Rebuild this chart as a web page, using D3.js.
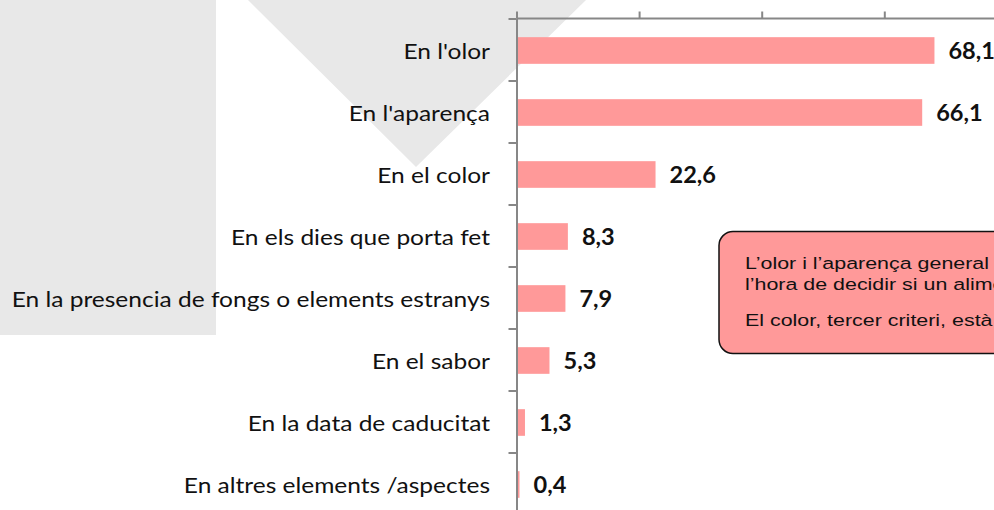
<!DOCTYPE html>
<html>
<head>
<meta charset="utf-8">
<script src="https://cdn.jsdelivr.net/npm/d3@7"></script>
<style>
  html, body { margin: 0; padding: 0; background: #fff; overflow: hidden; }
  svg { display: block; }
</style>
</head>
<body>
<svg id="chart" width="994" height="510"></svg>
<script>
// ---- data ----
const categories = [
  "En l'olor",
  "En l'aparença",
  "En el color",
  "En els dies que porta fet",
  "En la presencia de fongs o elements estranys",
  "En el sabor",
  "En la data de caducitat",
  "En altres elements /aspectes"
];
const values = [68.1, 66.1, 22.6, 8.3, 7.9, 5.3, 1.3, 0.4];
const valueLabels = ["68,1", "66,1", "22,6", "8,3", "7,9", "5,3", "1,3", "0,4"];
const xTicks = [0, 20, 40, 60, 80];
const noteLines = [
  "L’olor i l’aparença general",
  "l’hora de decidir si un aliment",
  "El color, tercer criteri, està"
];

// ---- layout ----
const W = 994, H = 510;
const svg = d3.select("#chart");
const plotLeft = 516.5, plotTop = 18.5;
const step = 62;

// decorative background shapes
svg.append("rect").attr("x", 0).attr("y", 0).attr("width", 216).attr("height", 335).attr("fill", "#e8e8e8");
svg.append("path").attr("d", "M248,0 L416,167 L586,0 Z").attr("fill", "#e8e8e8");

const x = d3.scaleLinear().domain([0, 20]).range([plotLeft, plotLeft + 122.6]);
const y = d3.scaleBand().domain(categories)
  .range([plotTop, plotTop + step * categories.length])
  .paddingInner(0.57).paddingOuter(0.285);

const axisColor = "#878787";

// bars
svg.append("g").selectAll("rect").data(values).join("rect")
  .attr("x", x(0) + 0.5)
  .attr("y", (d, i) => y(categories[i]) + 1)
  .attr("width", d => Math.max(x(d) - x(0), 2.5))
  .attr("height", y.bandwidth())
  .attr("fill", "#ff9999");

// top x axis
const xAxis = d3.axisTop(x).tickValues(xTicks).tickFormat("").tickSize(7).tickSizeOuter(0);
const gx = svg.append("g").attr("transform", `translate(0,${plotTop})`).call(xAxis);
gx.select(".domain").attr("d", `M${plotLeft},0H${W + 10}`);
gx.selectAll("line, path").attr("stroke", axisColor).attr("stroke-width", 2);

// left y axis with boundary ticks
const yEdges = d3.scaleLinear().domain([0, categories.length]).range([plotTop, plotTop + step * categories.length]);
const yAxis = d3.axisLeft(yEdges).tickValues(d3.range(0, categories.length + 1)).tickFormat("").tickSize(8).tickSizeOuter(0);
const gy = svg.append("g").attr("transform", `translate(${plotLeft},0)`).call(yAxis);
gy.selectAll("line, path").attr("stroke", axisColor).attr("stroke-width", 2);

// category labels (reference text is horizontally stretched)
const catSX = 1.14;
svg.append("g").selectAll("text").data(categories).join("text")
  .attr("transform", d => `translate(490,${y(d) + y.bandwidth() / 2 + 9}) scale(${catSX},1)`)
  .attr("text-anchor", "end")
  .attr("font-family", "Lato, 'Open Sans', sans-serif")
  .attr("font-size", 21.5)
  .attr("fill", "#111")
  .text(d => d);

// value labels
const valSX = 1.07;
svg.append("g").selectAll("text").data(values).join("text")
  .attr("transform", (d, i) => `translate(${Math.max(x(d), x(0) + 2.5) + 14.5},${y(categories[i]) + y.bandwidth() / 2 + 9.5}) scale(${valSX},1)`)
  .attr("font-family", "Lato, 'Open Sans', sans-serif")
  .attr("font-weight", "bold")
  .attr("font-size", 22)
  .attr("fill", "#111")
  .text((d, i) => valueLabels[i]);

// callout box
svg.append("rect")
  .attr("x", 719).attr("y", 231.5).attr("width", 320).attr("height", 122)
  .attr("rx", 14).attr("ry", 14)
  .attr("fill", "#ff9999").attr("stroke", "#111").attr("stroke-width", 1.5);
const noteY = [269, 290, 325.5];
const noteSX = 1.26;
svg.append("g").selectAll("text").data(noteLines).join("text")
  .attr("transform", (d, i) => `translate(745,${noteY[i]}) scale(${noteSX},1)`)
  .attr("font-family", "'Liberation Sans', Arial, sans-serif")
  .attr("font-size", 17)
  .attr("fill", "#111")
  .text(d => d);
</script>
</body>
</html>
